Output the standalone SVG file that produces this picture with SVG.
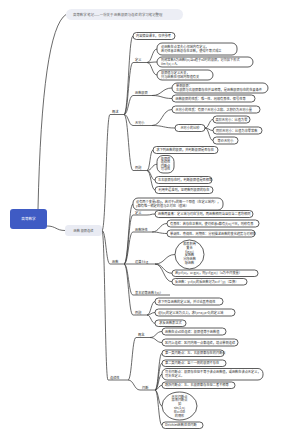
<svg xmlns="http://www.w3.org/2000/svg" width="300" height="438" viewBox="0 0 300 438">
<style>
.b{fill:#fff;stroke:#333;stroke-width:.8}
.t{font-family:"Noto Sans CJK SC","Noto Sans",sans-serif;font-size:3.2px;fill:#333}
.m{text-anchor:middle}
.u{stroke:#444;stroke-width:.8}
#connectors path{fill:none;stroke:#444;stroke-width:.8}
</style>
<rect width="300" height="438" fill="#fff"/>
<g id="connectors">
<path d="M38,209 Q42,30 66,14.5"/>
<path d="M47,226 C56,226 56,230.5 65,230.5"/>
<path d="M102,230.5 C106,230.5 106,114.5 110,114.5"/>
<path d="M102,230.5 C106,230.5 106,264 110,264"/>
<path d="M102,230.5 C105,230.5 105,380 108,380"/>
<path d="M124,114.5 C128.5,114.5 128.5,36 133,36"/>
<path d="M124,114.5 C128.5,114.5 128.5,62.5 133,62.5"/>
<path d="M124,114.5 C128.5,114.5 128.5,95.5 133,95.5"/>
<path d="M124,114.5 C128.5,114.5 128.5,125.5 133,125.5"/>
<path d="M124,114.5 C128.5,114.5 128.5,170.5 133,170.5"/>
<path d="M147,62.5 C152,62.5 152,49 157,49"/>
<path d="M147,62.5 C152,62.5 152,62 157,62"/>
<path d="M147,62.5 C152,62.5 152,75 157,75"/>
<path d="M152,95.5 C162,95.5 162,88 172,88"/>
<path d="M152,95.5 C162,95.5 162,98.5 172,98.5"/>
<path d="M152,125.5 C162,125.5 162,109.5 172,109.5"/>
<path d="M152,125.5 C163.5,125.5 163.5,128 175,128"/>
<path d="M205,128 C209,128 209,119.5 213,119.5"/>
<path d="M205,128 C209,128 209,130.5 213,130.5"/>
<path d="M205,128 C209,128 209,140.5 213,140.5"/>
<path d="M147,170.5 C150,170.5 150,150 153,150"/>
<path d="M147,170.5 C152,170.5 152,164.25 157,164.25"/>
<path d="M147,170.5 C151,170.5 151,180 155,180"/>
<path d="M147,170.5 C151,170.5 151,190 155,190"/>
<path d="M124,264 C128.5,264 128.5,204 133,204"/>
<path d="M124,264 C128.5,264 128.5,215 133,215"/>
<path d="M124,264 C128.5,264 128.5,232 133,232"/>
<path d="M124,264 L133,264"/>
<path d="M124,264 C128.5,264 128.5,295 133,295"/>
<path d="M124,264 C128.5,264 128.5,315 133,315"/>
<path d="M147,215 C151,215 151,214 155,214"/>
<path d="M152,232 C159.5,232 159.5,223.5 167,223.5"/>
<path d="M152,232 C159.5,232 159.5,233.5 167,233.5"/>
<path d="M155,264 C165,264 165,254.5 175,254.5"/>
<path d="M155,264 C163.5,264 163.5,273.25 172,273.25"/>
<path d="M155,264 C163.5,264 163.5,281.75 172,281.75"/>
<path d="M147,315 C151,315 151,301.5 155,301.5"/>
<path d="M147,315 C151,315 151,312.5 155,312.5"/>
<path d="M147,315 C151,315 151,323.25 155,323.25"/>
<path d="M128,380 C132,380 132,337.5 136,337.5"/>
<path d="M128,380 C134,380 134,390 140,390"/>
<path d="M150,337.5 C156,337.5 156,331.5 162,331.5"/>
<path d="M150,337.5 C156,337.5 156,342.5 162,342.5"/>
<path d="M155,390 C158.5,390 158.5,353.25 162,353.25"/>
<path d="M155,390 C158.5,390 158.5,363.25 162,363.25"/>
<path d="M155,390 C158.5,390 158.5,374.25 162,374.25"/>
<path d="M155,390 C158.5,390 158.5,385.25 162,385.25"/>
<path d="M155,390 C158.5,390 158.5,406 162,406"/>
<path d="M155,390 C158.5,390 158.5,425.25 162,425.25"/>
</g>
<g id="title"><rect x="66" y="9" width="117" height="11" rx="5.5" fill="#eceef5"/><text class="t" x="73" y="15.8" style="font-size:3.4px;fill:#666">高等数学 笔记——一份关于 函数极限与连续 的学习笔记整理</text></g>
<g id="root"><rect x="10" y="209" width="37" height="20" rx="3" fill="#3f5bc4"/><text class="t m" x="28.5" y="220.3" style="fill:#fff;font-size:3.6px">高等数学</text></g>
<g id="p"><rect x="65" y="225" width="37" height="11" rx="3.5" fill="#e9ebf3"/><text class="t m" x="83.5" y="231.6" style="fill:#555">函数 极限连续</text></g>

<g id="a"><text class="t" x="112" y="113.2">概述</text><line class="u" x1="110" y1="114.5" x2="124" y2="114.5"/></g>
<g id="a1"><rect class="b" x="133" y="32.5" width="42" height="7" rx="3.5"/><text class="t" x="136" y="37.1">内容摘自课本，仅供参考</text></g>
<g id="a2"><text class="t" x="135" y="61.3">定义</text><line class="u" x1="133" y1="62.5" x2="147" y2="62.5"/></g>
<g id="a2a"><rect class="b" x="157" y="43" width="80" height="12" rx="5"/><text class="t" x="161" y="48.3">设函数在点某去心邻域内有定义，</text><text class="t" x="161" y="52.3">若对任意正数总存在正数，使得不等式成立</text></g>
<g id="a2b"><rect class="b" x="157" y="57" width="96" height="10" rx="5"/><text class="t" x="161" y="61.3">则称常数A为函数f(x)当x趋于x0时的极限，记作如下形式</text><text class="t" x="161" y="65.2">lim f(x) = A。</text></g>
<g id="a2c"><rect class="b" x="157" y="70" width="56" height="10" rx="5"/><text class="t" x="161" y="74.3">极限值与定义无关，</text><text class="t" x="161" y="78.2">只与函数在邻域内取值有关</text></g>
<g id="a3"><text class="t" x="135" y="94.2">函数极限</text><line class="u" x1="133" y1="95.5" x2="152" y2="95.5"/></g>
<g id="a3a"><rect class="b" x="172" y="83" width="96" height="10" rx="5"/><text class="t" x="176" y="87.3">单侧极限：</text><text class="t" x="176" y="91.2">左极限与右极限都存在并且相等，是函数极限存在的充要条件</text></g>
<g id="a3b"><rect class="b" x="172" y="95" width="83" height="7" rx="3.5"/><text class="t" x="175.5" y="99.6">函数极限的性质：唯一性、局部有界性、保号性等</text></g>
<g id="a4"><text class="t" x="135" y="124.2">无穷小</text><line class="u" x1="133" y1="125.5" x2="152" y2="125.5"/></g>
<g id="a4a"><rect class="b" x="172" y="106" width="88" height="7" rx="3.5"/><text class="t" x="175.5" y="110.6">无穷小的性质：有限个无穷小之和、之积仍为无穷小量</text></g>
<g id="a4b"><rect class="b" x="175" y="124.5" width="30" height="7" rx="3.5"/><text class="t m" x="190" y="129.1">无穷小的比较</text></g>
<g id="a4b1"><rect class="b" x="213" y="116" width="37" height="7" rx="3.5"/><text class="t" x="215.5" y="120.6">高阶无穷小：比值为零</text></g>
<g id="a4b2"><rect class="b" x="213" y="127" width="49" height="7" rx="3.5"/><text class="t" x="216" y="131.6">同阶无穷小：比值为非零常数</text></g>
<g id="a4b3"><rect class="b" x="213" y="137" width="25" height="7" rx="3.5"/><text class="t m" x="225.5" y="141.6">等价无穷小</text></g>
<g id="a5"><text class="t" x="135" y="169.2">例题</text><line class="u" x1="133" y1="170.5" x2="147" y2="170.5"/></g>
<g id="a5a"><rect class="b" x="153" y="146.5" width="65" height="7" rx="3.5"/><text class="t" x="156.5" y="151.1">求下列函数的极限，并判断极限是否存在</text></g>
<g id="a5b"><rect class="b" x="157" y="155.5" width="17" height="17.5" rx="6"/><text class="t m" x="165.5" y="159.9">极限值</text><text class="t m" x="165.5" y="163.4">连续性</text><text class="t m" x="165.5" y="166.9">间断点</text><text class="t m" x="165.5" y="170.4">可导性</text></g>
<g id="a5c"><rect class="b" x="155" y="176.5" width="57" height="7" rx="3.5"/><text class="t" x="158" y="181.1">左右极限存在时，判断极限值是否相等</text></g>
<g id="a5d"><rect class="b" x="155" y="186.5" width="58" height="7" rx="3.5"/><text class="t" x="158.5" y="191.1">利用夹逼准则，证明数列极限的存在</text></g>

<g id="b"><text class="t" x="112" y="262.7">函数</text><line class="u" x1="110" y1="264" x2="124" y2="264"/></g>
<g id="b1"><rect class="b" x="133" y="198" width="90" height="12" rx="5"/><text class="t" x="136" y="203.1">设有两个变量x和y，若对于x的每一个取值（在定义域内），</text><text class="t" x="136" y="207.1">y都有唯一确定的值与之对应（值域）</text></g>
<g id="b2"><text class="t" x="135" y="213.7">定义</text><line class="u" x1="133" y1="215" x2="147" y2="215"/></g>
<g id="b2a"><rect class="b" x="155" y="210.5" width="98" height="7" rx="3.5"/><text class="t" x="158" y="215.1">函数两要素：定义域与对应法则，两函数相同当且仅当二者均相同</text></g>
<g id="b3"><text class="t" x="135" y="230.7">函数特性</text><line class="u" x1="133" y1="232" x2="152" y2="232"/></g>
<g id="b3a"><rect class="b" x="167" y="220" width="92" height="7" rx="3.5"/><text class="t" x="170" y="224.6">有界性：若存在正数M，使对任意x都有|f(x)|≤M，则称有界</text></g>
<g id="b3b"><rect class="b" x="167" y="230" width="88" height="7" rx="3.5"/><text class="t" x="170" y="234.6">单调性、奇偶性、周期性：分别描述函数的变化趋势与对称性</text></g>
<g id="b4"><text class="t" x="135" y="262.7">运算 f±g</text><line class="u" x1="133" y1="264" x2="155" y2="264"/></g>
<g id="b4a"><ellipse class="b" cx="189.5" cy="254.5" rx="14.5" ry="14.5"/><text class="t m" x="189.5" y="244.7">和差积商</text><text class="t m" x="189.5" y="248.6">复合</text><text class="t m" x="189.5" y="252.5">f[g(x)]</text><text class="t m" x="189.5" y="256.4">反函数</text><text class="t m" x="189.5" y="260.3">分段函数</text><text class="t m" x="189.5" y="264.2">隐函数</text></g>
<g id="b4b"><rect class="b" x="172" y="270" width="86" height="6.5" rx="3.25"/><text class="t" x="175" y="274.4">若y=f(u)，u=g(x)，则y=f[g(x)]（u为中间变量）</text></g>
<g id="b4c"><rect class="b" x="172" y="278.5" width="75" height="6.5" rx="3.25"/><text class="t" x="175" y="282.9">反函数：y=f(x)的反函数记为x=f⁻¹(y)（互换）</text></g>
<g id="b5"><text class="t" x="135" y="293.7">基本初等函数 f(x)?</text><line class="u" x1="133" y1="295" x2="170" y2="295"/></g>
<g id="b6"><text class="t" x="135" y="313.7">例题</text><line class="u" x1="133" y1="315" x2="147" y2="315"/></g>
<g id="b6a"><rect class="b" x="155" y="298" width="68" height="7" rx="3.5"/><text class="t" x="158" y="302.6">求下列各函数的定义域，并讨论其奇偶性</text></g>
<g id="b6b"><rect class="b" x="155" y="309" width="80" height="7" rx="3.5"/><text class="t" x="158" y="313.6">设f(x)的定义域为[0,1]，求f(x+a)(a&gt;0)的定义域</text></g>
<g id="b6c"><rect class="b" x="155" y="320" width="31" height="6.5" rx="3.25"/><text class="t m" x="170.5" y="324.4">求反函数表达式</text></g>

<g id="c"><text class="t" x="110" y="378.7">连续性</text><line class="u" x1="108" y1="380" x2="128" y2="380"/></g>
<g id="c1"><text class="t" x="138" y="336.2">概念</text><line class="u" x1="136" y1="337.5" x2="150" y2="337.5"/></g>
<g id="c1a"><rect class="b" x="162" y="328" width="64" height="7" rx="3.5"/><text class="t" x="165" y="332.6">函数在点x0处连续：极限值等于函数值</text></g>
<g id="c1b"><rect class="b" x="162" y="339" width="76" height="7" rx="3.5"/><text class="t" x="165" y="343.6">区间上连续：区间内每一点都连续，端点单侧连续</text></g>
<g id="c2"><text class="t" x="142" y="388.7">间断</text><line class="u" x1="140" y1="390" x2="155" y2="390"/></g>
<g id="c2a"><rect class="b" x="162" y="350" width="62" height="6.5" rx="3.25"/><text class="t" x="165" y="354.4">第一类间断点：左、右极限都存在的间断点</text></g>
<g id="c2b"><rect class="b" x="162" y="360" width="64" height="6.5" rx="3.25"/><text class="t" x="165" y="364.4">第二类间断点：至少一侧的极限不存在</text></g>
<g id="c2c"><rect class="b" x="162" y="368.5" width="101" height="11.5" rx="5"/><text class="t" x="165" y="373.4">可去间断点：极限存在但不等于该点函数值，或函数在该点无定义，</text><text class="t" x="165" y="377.4">可补充定义。</text></g>
<g id="c2d"><rect class="b" x="162" y="382" width="73" height="6.5" rx="3.25"/><text class="t" x="165" y="386.4">跳跃间断点：左、右极限都存在但二者不相等</text></g>
<g id="c2e"><ellipse class="b" cx="179.5" cy="406" rx="17.5" ry="14"/><text class="t m" x="179.5" y="397.6">无穷间断点</text><text class="t m" x="179.5" y="401.4">振荡间断点</text><text class="t m" x="179.5" y="405.2">如</text><text class="t m" x="179.5" y="409">sin(1/x)</text><text class="t m" x="179.5" y="412.8">在x=0处</text><text class="t m" x="179.5" y="416.6">的情形</text></g>
<g id="c2f"><rect class="b" x="162" y="422" width="41" height="6.5" rx="3.25"/><text class="t" x="165" y="426.4">Dirichlet函数处处间断</text></g>
</svg>
